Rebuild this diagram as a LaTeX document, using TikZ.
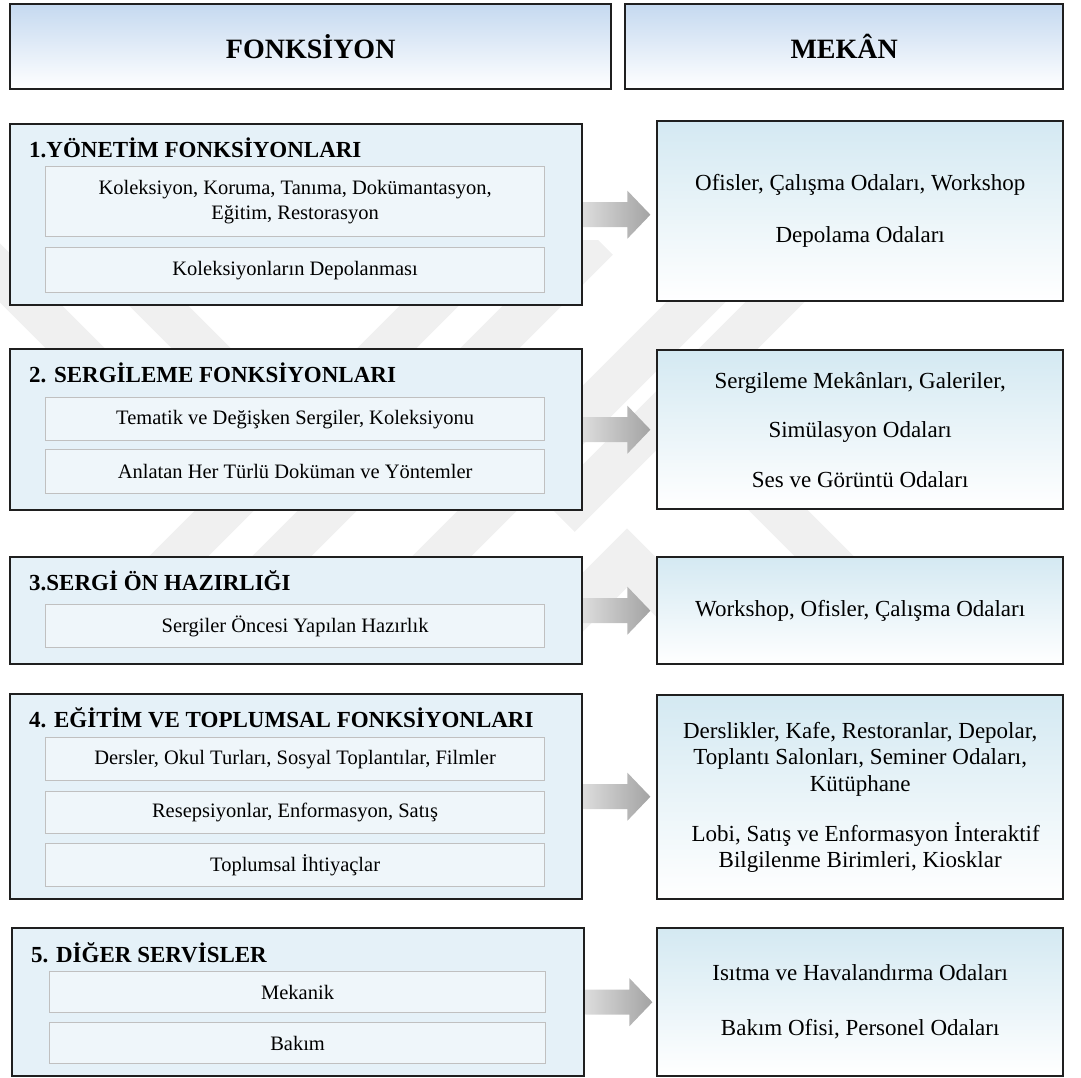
\documentclass[tikz,border=0pt]{standalone}
\usepackage{fontspec}
\setmainfont{Liberation Serif}
\usetikzlibrary{calc}

\definecolor{leftfill}{RGB}{229,241,248}
\definecolor{innerfill}{RGB}{239,246,250}
\definecolor{innerline}{RGB}{192,192,192}
\definecolor{righttop}{RGB}{212,233,242}
\definecolor{headtop}{RGB}{197,217,240}
\definecolor{arrowleft}{RGB}{220,220,220}
\definecolor{arrowright}{RGB}{163,163,163}
\definecolor{markgrey}{RGB}{240,240,240}

\begin{document}
\begin{tikzpicture}[x=1pt,y=-1pt,
  sz/.style 2 args={minimum width=#1pt, minimum height=#2pt},
  outerbox/.style={draw=black!88, line width=2.4pt, inner sep=0pt, anchor=north west},
  headbox/.style={outerbox, top color=headtop, bottom color=white,
                  font=\bfseries\fontsize{28}{32}\selectfont},
  funcbox/.style={outerbox, fill=leftfill},
  spacebox/.style={outerbox, top color=righttop, bottom color=white, align=center,
                   font=\fontsize{23}{26.5}\selectfont},
  itembox/.style={draw=innerline, line width=1.2pt, fill=innerfill, inner sep=0pt,
                  anchor=north west, align=center, font=\fontsize{20.5}{25}\selectfont},
  functitle/.style={anchor=base west, inner sep=0pt, font=\bfseries\fontsize{23}{27}\selectfont},
  markband/.style={draw=markgrey, line width=42pt},
  blockarrow/.style={left color=arrowleft, right color=arrowright}
]
\useasboundingbox (0,0) rectangle (1081,1077);

% faint background emblem
\begin{scope}
  \clip (0,240) rectangle (1081,655);
  \draw[markband] (-33,240) -- (207,480);
  \draw[markband] (93,240) -- (333,480);
  \draw[markband] (495,240) -- (80,655);
  \draw[markband] (598,240) -- (183,655);
  \draw[markband] (758,240) -- (343,655);
  \draw[markband] (837,240) -- (560,517);
  \draw[markband] (690,422) -- (930,662);
  \draw[markband, line join=miter] (527,658) -- (627,558) -- (727,658);
\end{scope}

% column headers
\node[headbox, sz={601}{85}] (hfunc) at (9,3) {FONKSİYON};
\node[headbox, sz={438}{85}] (hspace) at (624,3) {MEKÂN};

% function groups
\node[funcbox, sz={572}{181}] (L1) at (9,123) {};
\node[funcbox, sz={572}{161}] (L2) at (9,348) {};
\node[funcbox, sz={572}{107}] (L3) at (9,556) {};
\node[funcbox, sz={572}{205}] (L4) at (9,693) {};
\node[funcbox, sz={572}{148}] (L5) at (11,927) {};

\node[functitle] (T1) at (29,157) {1.YÖNETİM FONKSİYONLARI};
\node[functitle] (T2) at (29,382) {2. SERGİLEME FONKSİYONLARI};
\node[functitle] (T3) at (29,590) {3.SERGİ ÖN HAZIRLIĞI};
\node[functitle] (T4) at (29,727) {4. EĞİTİM VE TOPLUMSAL FONKSİYONLARI};
\node[functitle] (T5) at (31,962) {5. DİĞER SERVİSLER};

\node[itembox, sz={499}{70}] (I1a) at (45,166) {Koleksiyon, Koruma, Tanıma, Dokümantasyon,\\Eğitim, Restorasyon};
\node[itembox, sz={499}{45}] (I1b) at (45,247) {Koleksiyonların Depolanması};
\node[itembox, sz={499}{43}] (I2a) at (45,397) {Tematik ve Değişken Sergiler, Koleksiyonu};
\node[itembox, sz={499}{44}] (I2b) at (45,449) {Anlatan Her Türlü Doküman ve Yöntemler};
\node[itembox, sz={499}{43}] (I3a) at (45,604) {Sergiler Öncesi Yapılan Hazırlık};
\node[itembox, sz={499}{43}] (I4a) at (45,737) {Dersler, Okul Turları, Sosyal Toplantılar, Filmler};
\node[itembox, sz={499}{42}] (I4b) at (45,791) {Resepsiyonlar, Enformasyon, Satış};
\node[itembox, sz={499}{43}] (I4c) at (45,843) {Toplumsal İhtiyaçlar};
\node[itembox, sz={496}{41}] (I5a) at (49,971) {Mekanik};
\node[itembox, sz={496}{41}] (I5b) at (49,1022) {Bakım};

% spaces
\node[spacebox, sz={406}{180}] (R1) at (656,120)
  {Ofisler, Çalışma Odaları, Workshop\\[25.5pt]Depolama Odaları};
\node[spacebox, sz={406}{159}] (R2) at (656,349)
  {Sergileme Mekânları, Galeriler,\\[23pt]Simülasyon Odaları\\[23pt]Ses ve Görüntü Odaları};
\node[spacebox, sz={406}{107}] (R3) at (656,556)
  {Workshop, Ofisler, Çalışma Odaları};
\node[spacebox, sz={406}{204}] (R4) at (656,694)
  {Derslikler, Kafe, Restoranlar, Depolar,\\Toplantı Salonları, Seminer Odaları,\\Kütüphane\\[23.5pt]%
   \hspace*{11pt}Lobi, Satış ve Enformasyon İnteraktif\\Bilgilenme Birimleri, Kiosklar};
\node[spacebox, sz={406}{148}] (R5) at (656,927)
  {Isıtma ve Havalandırma Odaları\\[28.5pt]Bakım Ofisi, Personel Odaları};

% block arrows from each function group towards its spaces
\foreach \i in {1,...,5}{
  \shade[blockarrow] (L\i.east) ++(0,-12.5) -- ++(44,0) -- ++(0,-11.5) -- ++(23,24)
     -- ++(-23,24) -- ++(0,-11.5) -- ++(-44,0) -- cycle;
}
\end{tikzpicture}
\end{document}
